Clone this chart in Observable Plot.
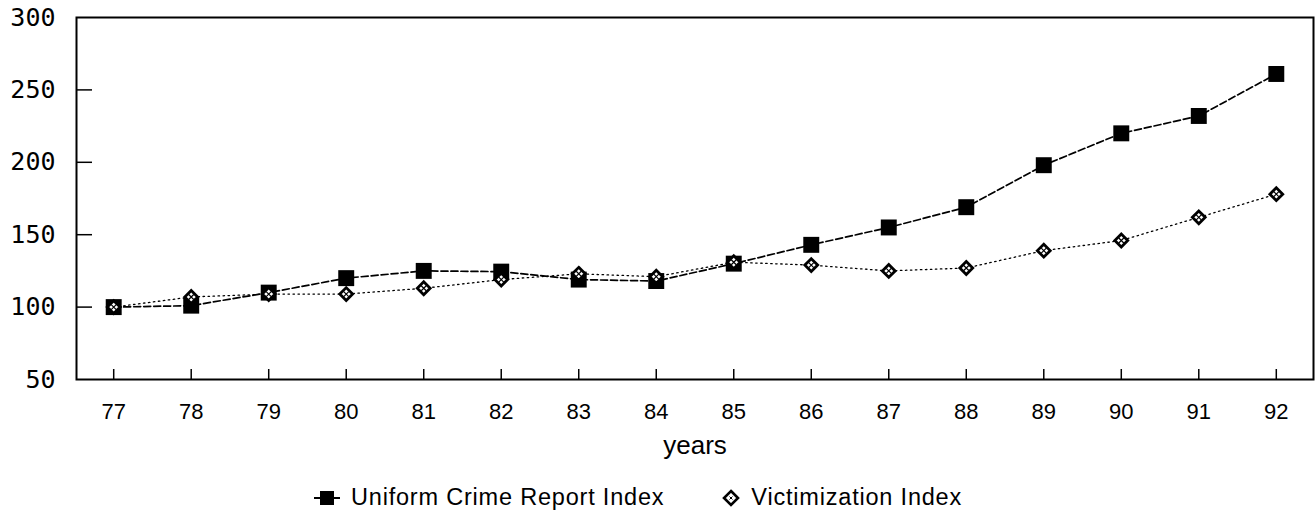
<!DOCTYPE html>
<html>
<head>
<meta charset="utf-8">
<script src="https://cdn.jsdelivr.net/npm/d3@7"></script>
<script src="https://cdn.jsdelivr.net/npm/@observablehq/plot@0.6"></script>
<style>
  html, body { margin: 0; padding: 0; background: #fff; }
  #legend { height: 55px; display: flex; justify-content: flex-start; align-items: center; gap: 58px;
    font-family: "Liberation Sans", Arial, sans-serif; font-size: 23.5px; letter-spacing: 0.8px; color: #000; padding-left: 314px; }
  #legend span.item { display: flex; align-items: center; gap: 11px; }
</style>
</head>
<body>
<div id="chart"></div>
<div id="legend"></div>
<script>
const years = [77, 78, 79, 80, 81, 82, 83, 84, 85, 86, 87, 88, 89, 90, 91, 92];
const ucrIndex = [100, 101, 110, 120, 125, 124.5, 119, 118, 130, 143, 155, 169, 198, 220, 232, 261];
const victimIndex = [100, 107, 109, 109, 113, 119, 123, 121, 131, 129, 125, 127, 139, 146, 162, 178];
const yTicks = [50, 100, 150, 200, 250, 300];
const seriesNames = ["Uniform Crime Report Index", "Victimization Index"];
const xLabel = "years";

const ucr = years.map((y, i) => ({year: y, value: ucrIndex[i]}));
const vic = years.map((y, i) => ({year: y, value: victimIndex[i]}));

const W = 1316, H = 470, mL = 76, mR = 3, mT = 17, mB = 91;
const frameW = W - mL - mR, frameH = H - mT - mB;

const chart = Plot.plot({
  width: W, height: H,
  marginLeft: mL, marginRight: mR, marginTop: mT, marginBottom: mB,
  style: {background: "#fff", color: "#000"},
  x: {type: "linear", domain: [76.52, 92.48]},
  y: {domain: [50, 300]},
  marks: [
    Plot.axisY({ticks: yTicks, tickSize: 0, tickPadding: 21, fontSize: 25,
      fontFamily: "DejaVu Sans Mono", label: null}),
    Plot.axisX({ticks: years, tickSize: 0, tickPadding: 24, fontSize: 22,
      fontFamily: "Liberation Sans", tickFormat: d => String(d), label: null}),
    Plot.tickY(yTicks.slice(1, -1), {y: d => d, insetRight: frameW - 16, stroke: "#000", strokeWidth: 1.5}),
    Plot.tickX(years, {x: d => d, insetTop: frameH - 10, stroke: "#000", strokeWidth: 1.5}),
    Plot.text([xLabel], {frameAnchor: "bottom", dy: 74, fontSize: 26, fontFamily: "Liberation Sans", fill: "#000"}),
    Plot.line(vic, {x: "year", y: "value", stroke: "#000", strokeWidth: 1.3, strokeDasharray: "1.5,3.5"}),
    Plot.line(ucr, {x: "year", y: "value", stroke: "#000", strokeWidth: 1.7, strokeDasharray: "7,3"}),
    Plot.dot(ucr, {x: "year", y: "value", symbol: "square", r: 9, fill: "#000", stroke: "none"}),
    Plot.dot(vic, {x: "year", y: "value", symbol: "diamond2", r: 5.8, fill: "#fff", stroke: "#000", strokeWidth: 2.8}),
    Plot.dot(vic, {x: "year", y: "value", symbol: "times", r: 2.4, stroke: "#000", strokeWidth: 1.2}),
    Plot.frame({stroke: "#000", strokeWidth: 2})
  ]
});
document.getElementById("chart").appendChild(chart);

const legend = document.getElementById("legend");
legend.innerHTML = `
  <span class="item"><svg width="26" height="20" viewBox="0 0 26 20">
    <line x1="0" y1="10" x2="26" y2="10" stroke="#000" stroke-width="2"/>
    <rect x="6" y="3" width="14" height="14" fill="#000"/></svg><span>${seriesNames[0]}</span></span>
  <span class="item"><svg width="18" height="18" viewBox="0 0 18 18">
    <path d="M9,2L16,9L9,16L2,9Z" fill="#fff" stroke="#000" stroke-width="2.6"/>
    <path d="M7.5,7.5L10.5,10.5M10.5,7.5L7.5,10.5" stroke="#000" stroke-width="1"/></svg><span>${seriesNames[1]}</span></span>`;
</script>
</body>
</html>
